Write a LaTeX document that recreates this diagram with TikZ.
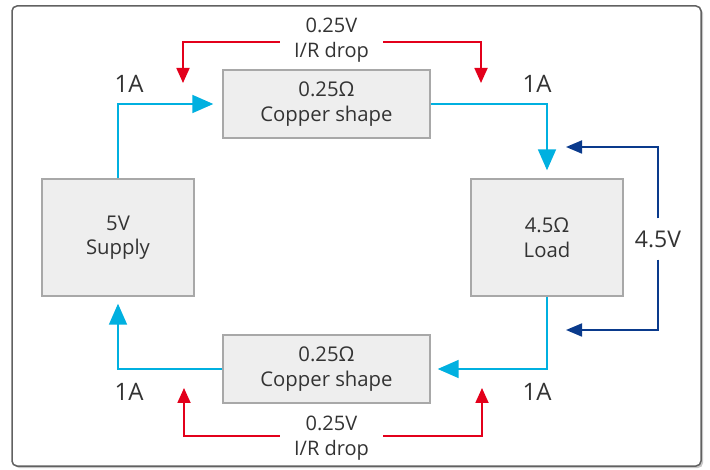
\documentclass[tikz,border=0pt]{standalone}
\usepackage{fontspec}
\setmainfont{Open Sans}
\usepackage{xcolor}
\usepackage{tikz}
\usetikzlibrary{arrows.meta, positioning}

\definecolor{curblue}{HTML}{00B0E0}
\definecolor{dropred}{HTML}{E3001B}
\definecolor{voltnavy}{HTML}{0A3A8C}
\definecolor{boxfill}{HTML}{EEEEEE}
\definecolor{boxline}{HTML}{A8A8A8}
\definecolor{txt}{HTML}{333333}

\begin{document}
\begin{tikzpicture}[x=1pt, y=-1pt,
    part/.style={draw=boxline, line width=1.4pt, fill=boxfill, text=txt, align=center,
      inner sep=0pt, font=\fontsize{20.3}{24.5}\selectfont},
    cur/.style={draw=curblue, line width=1.8pt, -{Triangle[length=21pt, width=18pt]}},
    drop/.style={draw=dropred, line width=1.8pt, -{Triangle[length=15pt, width=13pt]}},
    volt/.style={draw=voltnavy, line width=1.8pt, -{Triangle[length=16pt, width=13pt]}},
    amp/.style={text=txt, font=\fontsize{24}{28}\selectfont},
    droplbl/.style={text=txt, align=center, inner xsep=0pt, font=\fontsize{20}{25}\selectfont}]
  \useasboundingbox (0,0) rectangle (710,470);
  % frame
  \fill[black!22, rounded corners=5pt] (14,8) rectangle (703,468);
  \draw[black!62, line width=1.5pt, fill=white, rounded corners=5pt] (12,6) rectangle (701,466);
  % parts of the loop
  \node[part, minimum width=152pt, minimum height=117pt] (supply) at (118,237.5) {5V\\Supply};
  \node[part, minimum width=152pt, minimum height=117pt] (load) at (547,237.5) {4.5Ω\\Load};
  \node[part, minimum width=207pt, minimum height=68pt] (cutop) at (326.5,104) {0.25Ω\\Copper shape};
  \node[part, minimum width=207pt, minimum height=68pt] (cubot) at (326.5,369) {0.25Ω\\Copper shape};
  % current
  \draw[cur, shorten >=9pt] (supply.north) |- (cutop.west);
  \draw[cur, shorten >=8pt] (cutop.east) -| (load.north);
  \draw[cur, shorten >=7pt] (load.south) |- (cubot.east);
  \draw[cur, shorten >=7pt] (cubot.west) -| (supply.south);
  \node[amp] (atl) at (129,84) {1A};
  \node[amp] (atr) at (537,84) {1A};
  \node[amp] (abr) at (537,392) {1A};
  \node[amp] (abl) at (129,392) {1A};
  % copper drops
  \node[droplbl, minimum width=103pt] (droptop) at (331.5,40) {0.25V\\I/R drop};
  \node[droplbl, minimum width=103pt] (dropbot) at (331.5,438) {0.25V\\I/R drop};
  \coordinate (rtl) at (183,83);
  \coordinate (rtr) at (481,83);
  \coordinate (rbl) at (184,388);
  \coordinate (rbr) at (482,388);
  \draw[drop] ([yshift=-2pt]droptop.west) -| (rtl);
  \draw[drop] ([yshift=-2pt]droptop.east) -| (rtr);
  \draw[drop] ([yshift=2pt]dropbot.west) -| (rbl);
  \draw[drop] ([yshift=2pt]dropbot.east) -| (rbr);
  % load voltage
  \node[text=txt, inner sep=0pt, minimum height=41pt, font=\fontsize{23}{27}\selectfont] (vload) at (658,239) {4.5V};
  \coordinate (vtop) at (566,147);
  \coordinate (vbot) at (566,330);
  \draw[volt] (vload.north) |- (vtop);
  \draw[volt] (vload.south) |- (vbot);
\end{tikzpicture}
\end{document}
